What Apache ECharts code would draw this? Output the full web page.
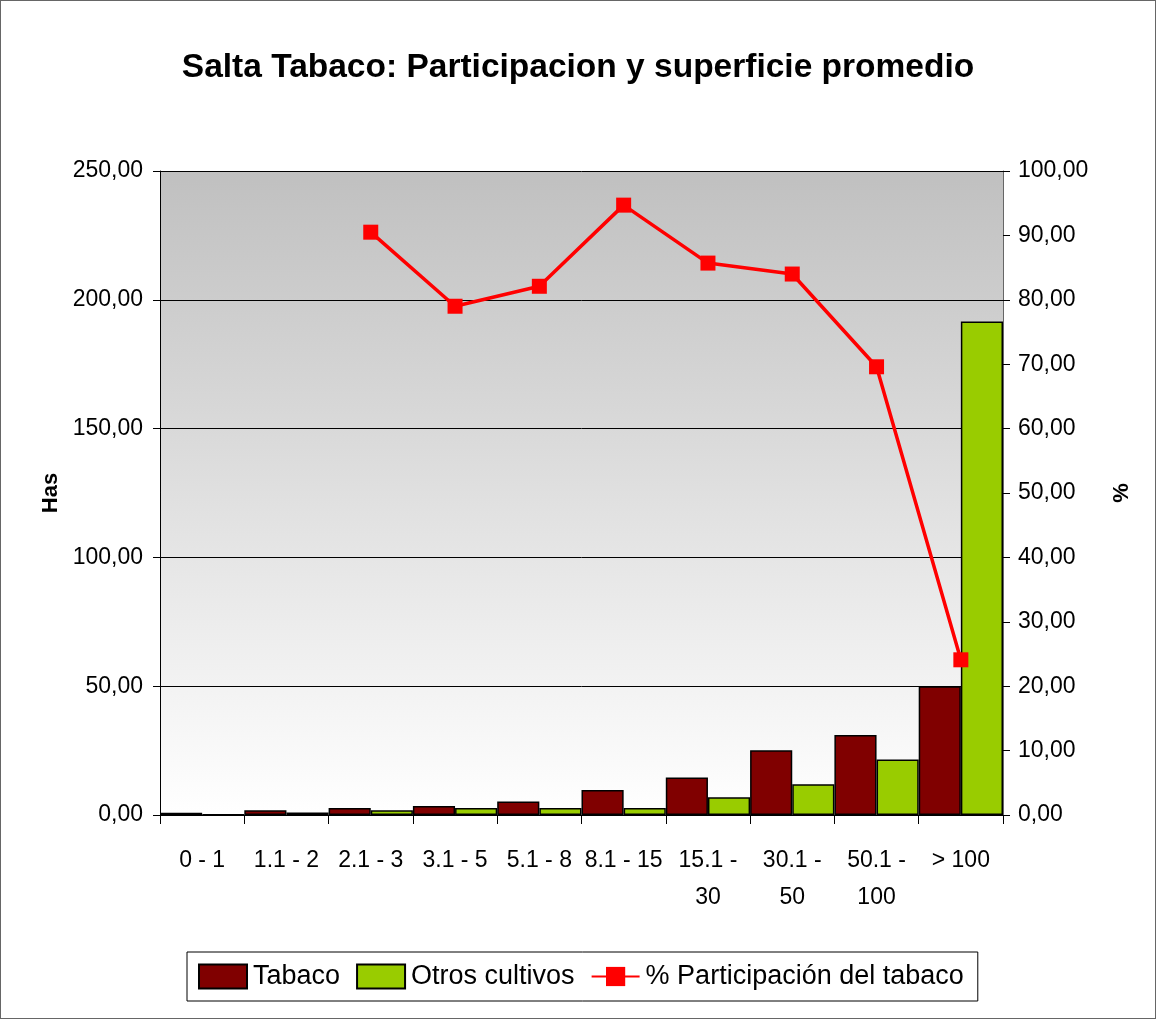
<!DOCTYPE html>
<html lang="es">
<head>
<meta charset="utf-8">
<title>Salta Tabaco</title>
<script src="https://cdn.jsdelivr.net/npm/echarts@6/dist/echarts.min.js"></script>
<style>
  html, body { margin: 0; padding: 0; background: #fff; }
  #main { width: 1154px; height: 1017px; border: 1px solid #666; }
</style>
</head>
<body>
<div id="main"></div>
<script>
// datos
var categorias = ['0 - 1', '1.1 - 2', '2.1 - 3', '3.1 - 5', '5.1 - 8', '8.1 - 15', '15.1 - 30', '30.1 - 50', '50.1 - 100', '> 100'];
var tabaco = [0.9, 1.8, 2.7, 3.5, 5.2, 9.7, 14.6, 25.1, 31.1, 50.0];
var otros = [0.1, 1.0, 1.8, 2.7, 2.7, 2.7, 6.9, 11.9, 21.5, 191.6];
var participacion = [null, null, 90.5, 79.0, 82.1, 94.7, 85.7, 84.0, 69.6, 24.1];

var fuente = '"Liberation Sans Narrow", "Arial Narrow", "Liberation Sans", sans-serif';

var myChart = echarts.init(document.getElementById('main'));

function coma(v) {
    return v.toFixed(2).replace('.', ',');
}

var option = {
    backgroundColor: '#fff',
    animation: false,
    title: {
        text: 'Salta Tabaco: Participacion y superficie promedio',
        left: 'center',
        top: 45,
        textStyle: {
            fontFamily: '"Liberation Sans", Arial, sans-serif',
            fontSize: 33.5,
            fontWeight: 'bold',
            color: '#000'
        }
    },
    legend: {
        bottom: 17,
        left: 186,
        itemWidth: 48,
        itemHeight: 24,
        itemGap: 16,
        padding: [11, 14, 11, 11],
        borderColor: '#000',
        borderWidth: 1,
        textStyle: { fontFamily: fuente, fontSize: 27, color: '#000', padding: [0, 0, 0, 1] },
        data: [
            { name: 'Tabaco', icon: 'rect' },
            { name: 'Otros cultivos', icon: 'rect' },
            { name: '% Participación del tabaco' }
        ]
    },
    grid: {
        left: 159,
        right: 152,
        top: 170,
        bottom: 203,
        show: true,
        borderWidth: 0,
        backgroundColor: {
            type: 'linear', x: 0, y: 0, x2: 0, y2: 1,
            colorStops: [
                { offset: 0, color: '#c0c0c0' },
                { offset: 1, color: '#ffffff' }
            ]
        }
    },
    xAxis: {
        type: 'category',
        data: categorias,
        boundaryGap: true,
        axisLine: { lineStyle: { color: '#000', width: 1 } },
        axisTick: { show: true, inside: false, length: 9, alignWithLabel: false, lineStyle: { color: '#000' } },
        axisLabel: {
            interval: 0,
            margin: 27,
            fontFamily: fuente,
            fontSize: 23,
            color: '#000',
            lineHeight: 37,
            formatter: function (v) {
                if (v.length > 8) {
                    var i = v.lastIndexOf(' ');
                    return v.slice(0, i) + '\n' + v.slice(i + 1);
                }
                return v;
            }
        }
    },
    yAxis: [{
        type: 'value',
        min: 0,
        max: 250,
        interval: 50,
        name: 'Has',
        nameLocation: 'middle',
        nameGap: 98,
        nameRotate: 90,
        nameTextStyle: { fontFamily: '"Liberation Sans", Arial, sans-serif', fontSize: 22, fontWeight: 'bold', color: '#000' },
        axisLine: { show: true, lineStyle: { color: '#000' } },
        axisTick: { show: true, inside: false, length: 7, lineStyle: { color: '#000' } },
        axisLabel: { fontFamily: fuente, fontSize: 23, color: '#000', margin: 17, formatter: coma },
        splitLine: { show: true, lineStyle: { color: '#000', width: 1 } }
    }, {
        type: 'value',
        min: 0,
        max: 100,
        interval: 10,
        name: '%',
        nameLocation: 'middle',
        nameGap: 108,
        nameRotate: 90,
        nameTextStyle: { fontFamily: '"Liberation Sans", Arial, sans-serif', fontSize: 22, fontWeight: 'bold', color: '#000' },
        axisLine: { show: true, lineStyle: { color: '#666' } },
        axisTick: { show: true, inside: false, length: 7, lineStyle: { color: '#000' } },
        axisLabel: { fontFamily: fuente, fontSize: 23, color: '#000', margin: 15, formatter: coma },
        splitLine: { show: false }
    }],
    series: [{
        name: 'Tabaco',
        type: 'bar',
        data: tabaco,
        barGap: '0%',
        barCategoryGap: '0%',
        itemStyle: { color: '#800000', borderColor: '#000', borderWidth: 1.5 }
    }, {
        name: 'Otros cultivos',
        type: 'bar',
        data: otros,
        barGap: '0%',
        barCategoryGap: '0%',
        itemStyle: { color: '#99cc00', borderColor: '#000', borderWidth: 1.5 }
    }, {
        name: '% Participación del tabaco',
        type: 'line',
        yAxisIndex: 1,
        data: participacion,
        symbol: 'rect',
        symbolSize: 15,
        connectNulls: false,
        lineStyle: { color: '#ff0000', width: 3.5 },
        itemStyle: { color: '#ff0000' },
        z: 5
    }]
};

myChart.setOption(option);
</script>
</body>
</html>
